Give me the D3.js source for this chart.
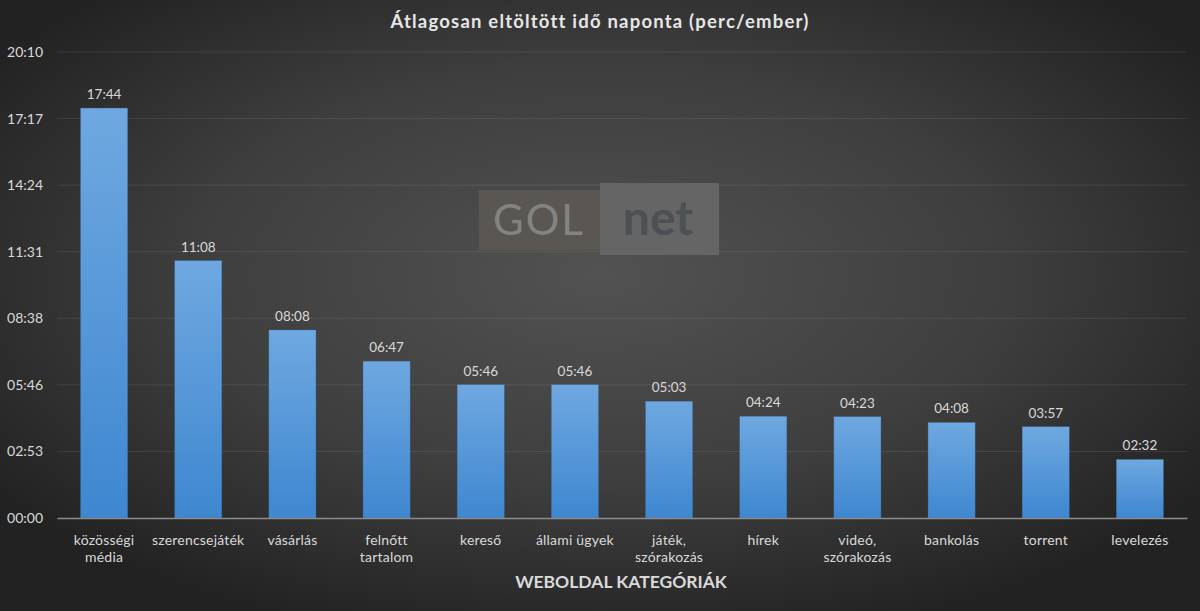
<!DOCTYPE html>
<html>
<head>
<meta charset="utf-8">
<script src="https://cdn.jsdelivr.net/npm/d3@7"></script>
<style>
  html, body { margin: 0; padding: 0; background: #2a2a2a; }
  svg { display: block; }
  text { font-family: Lato, "Open Sans", sans-serif; }
</style>
</head>
<body>
<svg id="chart"></svg>
<script>
// categories and time values (mm:ss)
const categories = [
  "közösségi média", "szerencsejáték", "vásárlás", "felnőtt tartalom", "kereső",
  "állami ügyek", "játék, szórakozás", "hírek", "videó, szórakozás", "bankolás",
  "torrent", "levelezés"
]
const labelLines = [
  ["közösségi", "média"], ["szerencsejáték"], ["vásárlás"], ["felnőtt", "tartalom"], ["kereső"],
  ["állami ügyek"], ["játék,", "szórakozás"], ["hírek"], ["videó,", "szórakozás"], ["bankolás"],
  ["torrent"], ["levelezés"]
]
const timeLabels = ["17:44", "11:08", "08:08", "06:47", "05:46", "05:46", "05:03", "04:24", "04:23", "04:08", "03:57", "02:32"]
const tickLabels = ["00:00", "02:53", "05:46", "08:38", "11:31", "14:24", "17:17", "20:10"]
const tickStep = 172.8 // seconds (0.002 day)

const toSec = (s) => { const p = s.split(":"); return +p[0] * 60 + +p[1] }
const data = categories.map((c, i) => ({ cat: c, lines: labelLines[i], label: timeLabels[i], value: toSec(timeLabels[i]) }))

const w = 1200
const h = 611
const margin = { left: 57, right: 13, top: 52, bottom: 93 }

const svg = d3.select("#chart").attr("width", w).attr("height", h)
const defs = svg.append("defs")

const bg = defs.append("radialGradient").attr("id", "bg")
  .attr("cx", "50%").attr("cy", "45%").attr("r", "62%")
bg.append("stop").attr("offset", "0%").attr("stop-color", "#525252")
bg.append("stop").attr("offset", "55%").attr("stop-color", "#3e3e3e")
bg.append("stop").attr("offset", "100%").attr("stop-color", "#222222")

const barGrad = defs.append("linearGradient").attr("id", "barGrad")
  .attr("x1", 0).attr("y1", 0).attr("x2", 0).attr("y2", 1)
barGrad.append("stop").attr("offset", "0%").attr("stop-color", "#6fa8e0")
barGrad.append("stop").attr("offset", "100%").attr("stop-color", "#3e87d0")

svg.append("rect").attr("width", w).attr("height", h).attr("fill", "url(#bg)")

const xScale = d3.scaleBand()
  .domain(categories)
  .range([margin.left, w - margin.right])
  .paddingInner(0.5)
  .paddingOuter(0.25)

const yScale = d3.scaleLinear()
  .domain([0, tickStep * 7])
  .range([h - margin.bottom, margin.top])

const tickValues = tickLabels.map((d, i) => i * tickStep)

// gridlines
svg.append("g")
  .selectAll("line")
  .data(tickValues.slice(1))
  .join("line")
  .attr("x1", margin.left)
  .attr("x2", w - margin.right)
  .attr("y1", d => yScale(d))
  .attr("y2", d => yScale(d))
  .attr("stroke", "#ffffff")
  .attr("stroke-opacity", 0.09)
  .attr("stroke-width", 1)

// watermark
const wm = svg.append("g").attr("opacity", 0.9)
wm.append("rect").attr("x", 479).attr("y", 190).attr("width", 121).attr("height", 60).attr("fill", "#5c5953")
wm.append("rect").attr("x", 600).attr("y", 183).attr("width", 119).attr("height", 72).attr("fill", "#686868")
wm.append("text").attr("x", 539).attr("y", 235).attr("text-anchor", "middle")
  .attr("font-size", 42).attr("font-family", "'DejaVu Sans Mono', monospace").attr("letter-spacing", 2)
  .attr("fill", "#8a8a86").text("GOL")
wm.append("text").attr("x", 658).attr("y", 235).attr("text-anchor", "middle")
  .attr("font-size", 48).attr("font-weight", "bold").attr("font-family", "'DejaVu Sans Mono', monospace")
  .attr("fill", "#4d5256").text("net")

// y axis
const yAxis = d3.axisLeft(yScale)
  .tickValues(tickValues)
  .tickFormat((d, i) => tickLabels[i])
  .tickSize(0)
  .tickPadding(14)

svg.append("g")
  .attr("transform", "translate(" + margin.left + ",0)")
  .call(yAxis)
  .call(g => g.select(".domain").remove())
  .selectAll("text")
  .attr("fill", "#d9d9d9")
  .attr("font-size", 14)
  .attr("font-family", "Lato, sans-serif")

// bars
svg.append("g")
  .selectAll("rect")
  .data(data)
  .join("rect")
  .attr("x", d => xScale(d.cat))
  .attr("y", d => yScale(d.value))
  .attr("width", xScale.bandwidth())
  .attr("height", d => yScale(0) - yScale(d.value))
  .attr("fill", "url(#barGrad)")
  .attr("stroke", "#3b6fa3")
  .attr("stroke-opacity", 0.5)
  .attr("stroke-width", 0.6)

// value labels
svg.append("g")
  .selectAll("text")
  .data(data)
  .join("text")
  .attr("x", d => xScale(d.cat) + xScale.bandwidth() / 2)
  .attr("y", d => yScale(d.value) - 9)
  .attr("text-anchor", "middle")
  .attr("fill", "#d9d9d9")
  .attr("font-size", 13.5)
  .text(d => d.label)

// x axis
const xAxis = d3.axisBottom(xScale).tickSize(0).tickFormat("")
const xg = svg.append("g")
  .attr("transform", "translate(0," + yScale(0) + ")")
  .call(xAxis)
xg.select(".domain").attr("stroke", "#8c8c8c").attr("stroke-width", 1.5)

const catLabels = svg.append("g")
  .selectAll("text")
  .data(data)
  .join("text")
  .attr("x", d => xScale(d.cat) + xScale.bandwidth() / 2)
  .attr("y", yScale(0) + 27)
  .attr("text-anchor", "middle")
  .attr("fill", "#d9d9d9")
  .attr("font-size", 14)
  .attr("letter-spacing", 0.2)

catLabels.selectAll("tspan")
  .data(d => d.lines)
  .join("tspan")
  .attr("x", function () { return d3.select(this.parentNode).attr("x") })
  .attr("dy", (d, i) => i === 0 ? 0 : 17)
  .text(d => d)

// title
svg.append("text")
  .attr("x", w / 2)
  .attr("y", 28)
  .attr("text-anchor", "middle")
  .attr("fill", "#e6e6e6")
  .attr("font-size", 18.5)
  .attr("font-weight", "bold")
  .attr("letter-spacing", 1.2)
  .text("Átlagosan eltöltött idő naponta (perc/ember)")

// x axis title
svg.append("text")
  .attr("x", 621)
  .attr("y", 588)
  .attr("text-anchor", "middle")
  .attr("fill", "#d9d9d9")
  .attr("font-size", 17.5)
  .attr("font-weight", "bold")
  .text("WEBOLDAL KATEGÓRIÁK")
</script>
</body>
</html>
